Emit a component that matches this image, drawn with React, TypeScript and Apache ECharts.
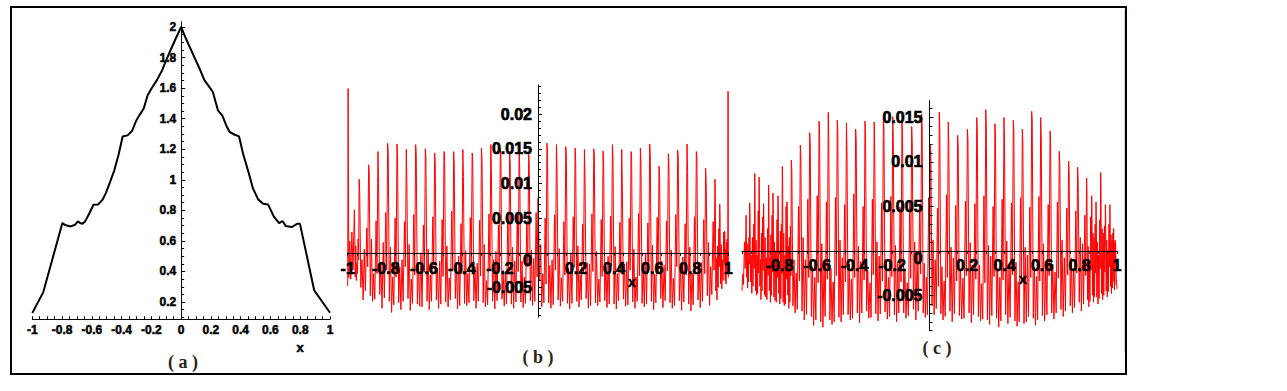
import React, { useEffect, useRef } from "react";
import * as echarts from "echarts";

// ---------- Panel (a): black curve ----------
const aX = [-1, -0.926, -0.798, -0.775, -0.742, -0.712, -0.694, -0.679, -0.663, -0.645,
  -0.618, -0.589, -0.557, -0.528, -0.506, -0.476, -0.449, -0.42, -0.393, -0.36,
  -0.33, -0.303, -0.281, -0.252, -0.225, -0.196, -0.164, -0.13, -0.101, -0.067,
  -0.034, 0, 0.034, 0.09, 0.124, 0.157, 0.187, 0.213, 0.247, 0.276,
  0.303, 0.326, 0.36, 0.389, 0.416, 0.449, 0.483, 0.517, 0.551, 0.584,
  0.622, 0.658, 0.681, 0.703, 0.742, 0.782, 0.798, 0.894, 1.0];
const aY = [0.128, 0.265, 0.717, 0.702, 0.695, 0.706, 0.728, 0.717, 0.713, 0.728,
  0.778, 0.837, 0.839, 0.87, 0.913, 0.99, 1.062, 1.166, 1.284, 1.291,
  1.319, 1.385, 1.422, 1.465, 1.553, 1.603, 1.651, 1.712, 1.782, 1.858,
  1.93, 2.0, 1.92, 1.8, 1.727, 1.651, 1.612, 1.575, 1.455, 1.422,
  1.356, 1.313, 1.295, 1.284, 1.171, 1.062, 0.942, 0.872, 0.843, 0.839,
  0.761, 0.717, 0.73, 0.697, 0.691, 0.713, 0.713, 0.276, 0.13];
const aXLabels = [-1, -0.8, -0.6, -0.4, -0.2, 0, 0.2, 0.4, 0.6, 0.8, 1];
const aYLabels = [0.2, 0.4, 0.6, 0.8, 1, 1.2, 1.4, 1.6, 1.8, 2];

// ---------- Panel (b): red oscillation ----------
const bLeftX = [-1, -0.998, -0.994, -0.989, -0.984, -0.978, -0.972];
const bLeftY = [-0.0048, 0.0237, -0.0036, 0.0017, -0.0038, 0.003, -0.0025];
const bRightX = [0.9975, 0.9988, 1.0];
const bRightY = [-0.0015, 0.0233, -0.0036];
const bPeakX = [-0.965, -0.94, -0.89, -0.841, -0.79, -0.741, -0.692, -0.643, -0.592, -0.543,
  -0.494, -0.443, -0.395, -0.346, -0.297, -0.248, -0.198, -0.149, -0.099, -0.049,
  0.0, 0.047, 0.097, 0.146, 0.195, 0.244, 0.293, 0.342, 0.391, 0.44,
  0.489, 0.538, 0.587, 0.636, 0.685, 0.734, 0.783, 0.832, 0.881, 0.93,
  0.955, 0.981];
const bHi = [0.0062, 0.0106, 0.0127, 0.0146, 0.0158, 0.0157, 0.0149, 0.0156, 0.015, 0.0144,
  0.0146, 0.0146, 0.0149, 0.0144, 0.0151, 0.0156, 0.015, 0.0146, 0.0153, 0.0142,
  0.0079, 0.0158, 0.0156, 0.0153, 0.0151, 0.0149, 0.015, 0.0147, 0.0156, 0.0149,
  0.0146, 0.0151, 0.0157, 0.0125, 0.0143, 0.0148, 0.0157, 0.0146, 0.0122, 0.0106,
  0.007, 0.0031];
const bTwin = [0.004, 0.0089, 0.0117, 0.01, 0.0144, 0.014, 0.0103, 0.0143, 0.0137, 0.013,
  0.0142, 0.0125, 0.011, 0.0138, 0.0132, 0.012, 0.0141, 0.0128, 0.0118, 0.0128,
  0.005, 0.0145, 0.012, 0.014, 0.0133, 0.0108, 0.0142, 0.0126, 0.0139, 0.01,
  0.0138, 0.0131, 0.0143, 0.011, 0.0128, 0.0138, 0.0117, 0.0139, 0.01, 0.0085,
  0.005, 0.002];
const bLow1 = [-0.0035, -0.005, -0.0062, -0.006, -0.007, -0.0072, -0.0066, -0.0074, -0.007, -0.0068,
  -0.0071, -0.0066, -0.0073, -0.0069, -0.0072, -0.007, -0.0067, -0.0074, -0.0071, -0.0069,
  -0.004, -0.0072, -0.0068, -0.0073, -0.007, -0.0066, -0.0072, -0.0069, -0.0074, -0.0067,
  -0.0071, -0.0073, -0.007, -0.0066, -0.0072, -0.0069, -0.0074, -0.0068, -0.0062, -0.0055,
  -0.0045, -0.004];
const bBump1 = [0.001, -0.001, 0.002, -0.0015, 0.0008, -0.002, 0.0012, -0.0018, 0.0005, -0.0022,
  0.001, -0.0015, 0.0003, -0.002, 0.0012, -0.001, -0.0025, 0.0008, -0.0012, 0.0004,
  0.0012, -0.0018, 0.0006, -0.0022, 0.001, -0.0014, 0.0002, -0.002, 0.0009, -0.0016,
  0.0005, -0.0021, 0.0011, -0.0012, 0.0004, -0.0019, 0.0008, -0.0015, 0.0015, -0.0008,
  0.0012, 0.0005];
const bLow2 = [-0.004, -0.0068, -0.007, -0.008, -0.0086, -0.0082, -0.0083, -0.0077, -0.0082, -0.008,
  -0.0078, -0.0081, -0.0076, -0.008, -0.0078, -0.0081, -0.0077, -0.008, -0.0079, -0.0076,
  -0.0078, -0.008, -0.0077, -0.0081, -0.0078, -0.008, -0.0076, -0.0079, -0.0081, -0.0077,
  -0.008, -0.0078, -0.0082, -0.0079, -0.008, -0.0083, -0.0084, -0.0079, -0.0076, -0.0068,
  -0.0052, -0.0045];
const bBump2 = [-0.0015, 0.0005, -0.003, 0.0015, -0.0035, -0.001, -0.0038, 0.0, -0.0032, -0.0012,
  -0.0036, -0.0005, -0.003, -0.0015, -0.004, 0.0002, -0.0028, -0.0012, -0.0035, -0.0008,
  -0.003, -0.001, -0.0036, 0.0, -0.0032, -0.0016, -0.0038, -0.0005, -0.003, -0.0013,
  -0.0035, -0.0002, -0.0031, -0.0018, -0.0037, -0.0006, -0.0029, -0.0014, -0.002, 0.001,
  -0.001, 0.0015];
const bLow3 = [-0.003, -0.0055, -0.0067, -0.0065, -0.0075, -0.007, -0.0073, -0.0078, -0.007, -0.0074,
  -0.0068, -0.0076, -0.0072, -0.007, -0.0075, -0.0069, -0.0074, -0.0071, -0.0073, -0.007,
  -0.0072, -0.0075, -0.007, -0.0073, -0.0068, -0.0076, -0.0071, -0.0074, -0.0069, -0.0075,
  -0.007, -0.0074, -0.0072, -0.0069, -0.0076, -0.0071, -0.0075, -0.007, -0.006, -0.005,
  -0.004, -0.003];
const bMid = [0.002, 0.0036, 0.0046, 0.0058, 0.005, 0.0045, 0.0055, 0.004, 0.0052, 0.0048,
  0.006, 0.0042, 0.0051, 0.0047, 0.0056, 0.004, 0.005, 0.0054, 0.0044, 0.0058,
  0.005, 0.0055, 0.0045, 0.0052, 0.0041, 0.0056, 0.0048, 0.0053, 0.0044, 0.005,
  0.0057, 0.0043, 0.0051, 0.0046, 0.0055, 0.0042, 0.0052, 0.0048, 0.0045, 0.0035,
  0.003, 0.002];
const bPre = [-0.001, -0.002, -0.003, -0.0025, -0.0035, -0.002, -0.0032, -0.0028, -0.0018, -0.0034,
  -0.0024, -0.003, -0.0019, -0.0033, -0.0026, -0.0022, -0.0031, -0.0027, -0.002, -0.0035,
  -0.0045, -0.0025, -0.0032, -0.0021, -0.003, -0.0027, -0.0034, -0.0019, -0.0029, -0.0025,
  -0.0033, -0.0022, -0.003, -0.0026, -0.002, -0.0032, -0.0024, -0.003, -0.0025, -0.002,
  -0.0015, -0.001];
const bXLabels = [-1, -0.8, -0.6, -0.4, -0.2, 0.2, 0.4, 0.6, 0.8, 1];
const bYLabels = [-0.005, 0, 0.005, 0.01, 0.015, 0.02];

// ---------- Panel (c): red oscillation ----------
const cLeftX = [-1, -0.996, -0.992, -0.987, -0.983];
const cLeftY = [-0.0045, -0.0026, -0.0038, 0.001, -0.002];
const cRightX = [0.992, 0.996, 1.0];
const cRightY = [0.001, -0.003, -0.0043];
const cPeakX = [-0.978, -0.959, -0.932, -0.909, -0.885, -0.858, -0.835, -0.808, -0.785, -0.76,
  -0.737, -0.689, -0.639, -0.589, -0.54, -0.492, -0.443, -0.394, -0.344, -0.295,
  -0.246, -0.196, -0.147, -0.095, -0.042, 0.005, 0.052, 0.1, 0.15, 0.202,
  0.252, 0.3, 0.349, 0.397, 0.447, 0.495, 0.545, 0.593, 0.643, 0.692,
  0.742, 0.79, 0.838, 0.865, 0.888, 0.913, 0.938, 0.962, 0.982];
const cHi = [0.004, 0.0054, 0.0087, 0.0083, 0.0053, 0.0074, 0.0065, 0.0062, 0.0095, 0.0055,
  0.0102, 0.0119, 0.0133, 0.0146, 0.0156, 0.0147, 0.0144, 0.0137, 0.0146, 0.0145,
  0.0149, 0.0151, 0.0145, 0.014, 0.0154, 0.012, 0.0156, 0.0145, 0.013, 0.0137,
  0.015, 0.0159, 0.0143, 0.015, 0.0147, 0.0137, 0.0157, 0.015, 0.0135, 0.0112,
  0.0101, 0.0094, 0.0082, 0.0062, 0.0055, 0.0088, 0.0052, 0.0052, 0.0025];
const cTwin = [0.002, 0.004, 0.006, 0.007, 0.0035, 0.006, 0.005, 0.0045, 0.008, 0.004,
  0.009, 0.0105, 0.0118, 0.013, 0.012, 0.0135, 0.0112, 0.0125, 0.0128, 0.011,
  0.0138, 0.0125, 0.0132, 0.0118, 0.014, 0.01, 0.0142, 0.012, 0.0118, 0.0125,
  0.0135, 0.014, 0.0128, 0.0122, 0.0134, 0.012, 0.0145, 0.0128, 0.0122, 0.0098,
  0.0088, 0.008, 0.0065, 0.005, 0.004, 0.007, 0.004, 0.0035, 0.001];
const cLow1 = [-0.003, -0.0035, -0.0045, -0.004, -0.005, -0.0045, -0.0052, -0.0048, -0.0058, -0.005,
  -0.0062, -0.0068, -0.0074, -0.008, -0.0078, -0.0075, -0.0072, -0.007, -0.0068, -0.0071,
  -0.0069, -0.0072, -0.007, -0.0066, -0.007, -0.0062, -0.0071, -0.0068, -0.0073, -0.007,
  -0.0074, -0.0078, -0.0076, -0.0072, -0.0079, -0.0082, -0.0076, -0.0073, -0.007, -0.0066,
  -0.0062, -0.0058, -0.0055, -0.005, -0.0052, -0.0048, -0.0045, -0.004, -0.0035];
const cBump1 = [0.0008, -0.0005, 0.0012, -0.001, 0.0015, -0.0008, 0.001, -0.0012, 0.002, 0.0005,
  -0.001, 0.0015, -0.0018, 0.0008, -0.002, 0.0012, -0.0015, 0.0005, -0.0022, 0.001,
  -0.0012, 0.0006, -0.002, 0.001, -0.0014, 0.0012, -0.0018, 0.0004, -0.0021, 0.0009,
  -0.0016, 0.0006, -0.0022, 0.0011, -0.0013, 0.0004, -0.0019, 0.0008, -0.0015, 0.0012,
  -0.0008, 0.0015, 0.0005, 0.002, 0.001, 0.0025, 0.0012, 0.0018, 0.0008];
const cLow2 = [-0.0042, -0.0048, -0.005, -0.0055, -0.0052, -0.0058, -0.0056, -0.006, -0.0062, -0.0065,
  -0.007, -0.0078, -0.0084, -0.0086, -0.0083, -0.008, -0.0078, -0.0081, -0.0076, -0.0079,
  -0.0077, -0.008, -0.0076, -0.0078, -0.0075, -0.0072, -0.0078, -0.008, -0.0077, -0.0081,
  -0.0079, -0.0083, -0.0086, -0.0082, -0.0085, -0.008, -0.0084, -0.0079, -0.0077, -0.0074,
  -0.007, -0.0068, -0.0063, -0.0058, -0.006, -0.0055, -0.0052, -0.0048, -0.0044];
const cBump2 = [-0.001, 0.0015, -0.0005, 0.002, -0.0008, 0.0018, 0.0, 0.0022, -0.0005, 0.0015,
  -0.0025, -0.001, -0.003, -0.0015, -0.0035, -0.0008, -0.0032, -0.0012, -0.0036, -0.0006,
  -0.003, -0.0014, -0.0036, -0.0004, -0.003, -0.001, -0.0034, -0.0008, -0.0031, -0.0016,
  -0.0037, -0.0006, -0.003, -0.0018, -0.0035, -0.0005, -0.0029, -0.0013, -0.0024, -0.0008,
  -0.002, 0.0008, -0.0012, 0.0015, -0.0005, 0.002, 0.0, 0.0012, -0.0005];
const cLow3 = [-0.0035, -0.004, -0.0048, -0.0045, -0.0055, -0.005, -0.0058, -0.0054, -0.006, -0.0058,
  -0.0066, -0.0072, -0.0078, -0.0074, -0.008, -0.0072, -0.0076, -0.007, -0.0075, -0.0071,
  -0.0074, -0.007, -0.0073, -0.0068, -0.0072, -0.0065, -0.0074, -0.0071, -0.0076, -0.0072,
  -0.0077, -0.0073, -0.0079, -0.0075, -0.008, -0.0074, -0.0078, -0.0072, -0.007, -0.0068,
  -0.0064, -0.006, -0.0057, -0.0052, -0.0054, -0.005, -0.0046, -0.0042, -0.0038];
const cMid = [0.0015, 0.003, 0.0045, 0.0038, 0.0025, 0.004, 0.0035, 0.003, 0.005, 0.0028,
  0.005, 0.0058, 0.0062, 0.0055, 0.006, 0.0052, 0.0064, 0.005, 0.0058, 0.0054,
  0.0061, 0.0049, 0.0057, 0.0052, 0.006, 0.0048, 0.0063, 0.0051, 0.0056, 0.0053,
  0.0062, 0.005, 0.0058, 0.0054, 0.006, 0.0049, 0.0061, 0.0052, 0.0055, 0.0048,
  0.0045, 0.004, 0.0038, 0.003, 0.0035, 0.0028, 0.003, 0.002, 0.0012];
const cPre = [-0.0015, -0.002, -0.0025, -0.0022, -0.0028, -0.0024, -0.003, -0.0026, -0.0032, -0.0028,
  -0.0034, -0.003, -0.0036, -0.0032, -0.0028, -0.0035, -0.003, -0.0033, -0.0027, -0.0034,
  -0.0029, -0.0035, -0.0031, -0.0026, -0.0033, -0.004, -0.003, -0.0034, -0.0028, -0.0032,
  -0.0036, -0.0029, -0.0033, -0.0027, -0.0035, -0.003, -0.0034, -0.0028, -0.0031, -0.0027,
  -0.0025, -0.0028, -0.0022, -0.0025, -0.002, -0.0024, -0.0018, -0.002, -0.0015];
const cXLabels = [-0.8, -0.6, -0.4, -0.2, 0.2, 0.4, 0.6, 0.8, 1];
const cYLabels = [-0.005, 0, 0.005, 0.01, 0.015];

// position of each sample inside one oscillation, as a share of the gap to the next peak
const STEP = [0, 0.06, 0.18, 0.3, 0.42, 0.54, 0.66, 0.8, 0.9];

function wave(lx: number[], ly: number[], px: number[], cols: number[][], rx: number[], ry: number[]) {
  const pts: number[][] = [];
  for (let i = 0; i < lx.length; i++) pts.push([lx[i], ly[i]]);
  for (let i = 0; i < px.length; i++) {
    const next = i + 1 < px.length ? px[i + 1] : rx[0];
    const w = next - px[i];
    for (let j = 0; j < cols.length; j++) pts.push([px[i] + STEP[j] * w, cols[j][i]]);
  }
  for (let i = 0; i < rx.length; i++) pts.push([rx[i], ry[i]]);
  return pts;
}

function tickList(a: number, b: number, s: number) {
  const r: number[] = [];
  for (let v = a; v <= b + 1e-9; v += s) r.push(Math.round(v * 1e6) / 1e6);
  return r;
}

const SANS = '"Liberation Sans", Arial, sans-serif';
const SERIF = '"Liberation Serif", "Times New Roman", serif';

// grid boxes (pixels) and value ranges of the three panels
const G = [
  { left: 32.3, top: 21.7, width: 297.7, height: 297.6, yMin: 0.087, yMax: 2.035 },
  { left: 347.7, top: 85, width: 380.6, height: 232.3, yMin: -0.0093, yMax: 0.0242 },
  { left: 742, top: 100.7, width: 375, height: 230, yMin: -0.009, yMax: 0.0169 },
];

export default function App() {
  const ref = useRef<HTMLDivElement>(null);
  useEffect(() => {
    if (!ref.current) return;
    const chart = echarts.init(ref.current, undefined, { renderer: "svg" });
    const line = { color: "#000", width: 1 };
    const fmt = (v: number) => (v === 0 ? "{z|0}" : String(v));
    // distance from the grid's left edge to x = 0, and from its bottom edge to y = 0
    const yOff = (g: number) => -G[g].width / 2;
    const xOff = (g: number) => {
      const b = G[g];
      if (b.yMin > 0) return 0;
      return -(b.height * (0 - b.yMin)) / (b.yMax - b.yMin);
    };
    const labelFont = (fs: number) => ({
      color: "#000", fontFamily: SANS, fontWeight: "bold", fontSize: fs,
      textBorderColor: "#000", textBorderWidth: fs > 14 ? 0.7 : 0.5,
    });

    const xAx = (g: number, labels: number[], fs: number, margin: number, inside: boolean) => ({
      type: "value", gridIndex: g, min: -1, max: 1, interval: 0.2, z: 5,
      position: "bottom", offset: xOff(g),
      axisLine: { show: true, onZero: false, lineStyle: line },
      axisTick: { show: true, inside, length: 3, lineStyle: line },
      minorTick: { show: true, splitNumber: 4, length: 3, lineStyle: line },
      splitLine: { show: false }, minorSplitLine: { show: false },
      axisLabel: {
        customValues: labels, margin, ...labelFont(fs),
        formatter: (v: number) => String(v),
      },
    });
    const yAx = (g: number, labels: number[], fs: number, margin: number) => ({
      type: "value", gridIndex: g, min: G[g].yMin, max: G[g].yMax, position: "left", z: 5,
      offset: yOff(g),
      axisLine: { show: true, onZero: false, lineStyle: line },
      axisTick: { show: true, inside: true, length: 4, customValues: labels, lineStyle: line },
      splitLine: { show: false },
      axisLabel: {
        customValues: labels, margin, ...labelFont(fs),
        formatter: fmt,
        rich: { z: { padding: [16, 0, 0, 0], ...labelFont(fs) } },
      },
    });
    const yMinor = (g: number, ticks: number[]) => ({
      type: "value", gridIndex: g, min: G[g].yMin, max: G[g].yMax, position: "left", z: 5,
      offset: yOff(g),
      axisLine: { show: false, onZero: false },
      axisTick: { show: true, inside: true, length: 3, customValues: ticks, lineStyle: line },
      axisLabel: { show: false },
      splitLine: { show: false },
    });

    const text = (t: string, x: number, y: number, font: string, fill = "#000", stroke = 0) => ({
      type: "text", x, y, silent: true, z: 10,
      style: { text: t, font, fill, textAlign: "center", textVerticalAlign: "middle",
        stroke: stroke ? fill : undefined, lineWidth: stroke },
    });

    chart.setOption({
      animation: false,
      backgroundColor: "#fff",
      grid: G.map((b) => ({ left: b.left, top: b.top, width: b.width, height: b.height })),
      xAxis: [
        xAx(0, aXLabels, 12, 5, true),
        xAx(1, bXLabels, 16, 8, false),
        xAx(2, cXLabels, 16, 7, false),
      ],
      yAxis: [
        yAx(0, aYLabels, 12, 5),
        yMinor(0, tickList(0.1, 2.0, 0.05)),
        yAx(1, bYLabels, 16, 6),
        yMinor(1, tickList(-0.009, 0.024, 0.001)),
        yAx(2, cYLabels, 16, 7),
        yMinor(2, tickList(-0.009, 0.016, 0.001)),
      ],
      series: [
        {
          type: "line", xAxisIndex: 0, yAxisIndex: 0, symbol: "none", silent: true, z: 2,
          lineStyle: { color: "#000", width: 2 },
          data: aX.map((x, i) => [x, aY[i]]),
        },
        {
          type: "line", xAxisIndex: 1, yAxisIndex: 2, symbol: "none", silent: true, z: 2,
          lineStyle: { color: "#ff0000", width: 1 },
          data: wave(bLeftX, bLeftY, bPeakX,
            [bHi, bTwin, bLow1, bBump1, bLow2, bBump2, bLow3, bMid, bPre], bRightX, bRightY),
        },
        {
          type: "line", xAxisIndex: 2, yAxisIndex: 4, symbol: "none", silent: true, z: 2,
          lineStyle: { color: "#ff0000", width: 1 },
          data: wave(cLeftX, cLeftY, cPeakX,
            [cHi, cTwin, cLow1, cBump1, cLow2, cBump2, cLow3, cMid, cPre], cRightX, cRightY),
        },
      ],
      graphic: [
        { type: "rect", silent: true, shape: { x: 11, y: 7, width: 1115, height: 367 },
          style: { fill: "none", stroke: "#000", lineWidth: 2 } },
        { type: "line", silent: true, shape: { x1: 1124.5, y1: 9, x2: 1124.5, y2: 352 },
          style: { stroke: "#e2d9b2", lineWidth: 1 } },
        text("x", 300, 347, `bold 13px ${SANS}`, "#000", 0.5),
        text("x", 632, 282, `bold 14px ${SANS}`, "#000", 0.5),
        text("x", 1023, 279, `bold 14px ${SANS}`, "#000", 0.5),
        text("( a )", 183, 362, `bold 18px ${SERIF}`, "#2b2415"),
        text("( b )", 538, 357, `bold 18px ${SERIF}`, "#2b2415"),
        text("( c )", 937, 348, `bold 18px ${SERIF}`, "#2b2415"),
      ],
    });
    return () => chart.dispose();
  }, []);
  return <div ref={ref} style={{ position: "fixed", left: 0, top: 0, width: 1287, height: 391 }} />;
}
